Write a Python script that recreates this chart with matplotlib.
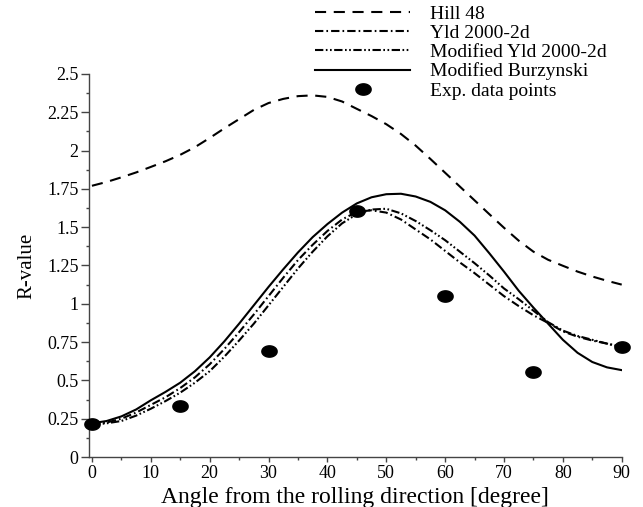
import numpy as np
import matplotlib
matplotlib.use("Agg")
import matplotlib.pyplot as plt
from matplotlib.path import Path
from matplotlib.ticker import MultipleLocator, FormatStrFormatter

# =========================
# DATA
# =========================
angles = [0, 2.5, 5, 7.5, 10, 12.5, 15, 17.5, 20, 22.5, 25, 27.5, 30, 32.5,
          35, 37.5, 40, 42.5, 45, 47.5, 50, 52.5, 55, 57.5, 60, 62.5, 65,
          67.5, 70, 72.5, 75, 77.5, 80, 82.5, 85, 87.5, 90]

r_hill48 = [1.77, 1.795, 1.825, 1.857, 1.893, 1.93, 1.972, 2.022, 2.082, 2.145,
            2.205, 2.265, 2.31, 2.337, 2.355, 2.36, 2.35, 2.32, 2.272, 2.225,
            2.172, 2.108, 2.032, 1.945, 1.855, 1.765, 1.675, 1.585, 1.496,
            1.412, 1.34, 1.287, 1.248, 1.21, 1.178, 1.15, 1.125]
r_yld2000 = [0.215, 0.225, 0.25, 0.29, 0.34, 0.39, 0.45, 0.52, 0.605, 0.705,
             0.815, 0.93, 1.05, 1.17, 1.285, 1.385, 1.475, 1.55, 1.60, 1.61,
             1.595, 1.55, 1.485, 1.42, 1.345, 1.27, 1.20, 1.125, 1.05,
             0.985, 0.925, 0.875, 0.82, 0.785, 0.76, 0.74, 0.715]
r_mod_yld2000 = [0.21, 0.22, 0.235, 0.27, 0.315, 0.365, 0.42, 0.485, 0.56,
                 0.655, 0.76, 0.87, 0.99, 1.11, 1.23, 1.34, 1.44, 1.525,
                 1.585, 1.615, 1.62, 1.59, 1.54, 1.48, 1.415, 1.34, 1.265,
                 1.185, 1.10, 1.03, 0.955, 0.88, 0.825, 0.79, 0.765, 0.74, 0.72]
r_mod_burz = [0.22, 0.235, 0.265, 0.31, 0.37, 0.425, 0.485, 0.56, 0.65, 0.755,
              0.87, 0.99, 1.11, 1.225, 1.335, 1.435, 1.52, 1.595, 1.655, 1.695,
              1.715, 1.718, 1.70, 1.665, 1.61, 1.535, 1.445, 1.33, 1.21,
              1.085, 0.975, 0.87, 0.765, 0.68, 0.62, 0.585, 0.567]

exp_angles = [0, 15, 30, 45, 60, 75, 90]
exp_r = [0.215, 0.33, 0.695, 1.605, 1.05, 0.555, 0.715]

labels = ["Hill 48", "Yld 2000-2d", "Modified Yld 2000-2d",
          "Modified Burzynski", "Exp. data points"]

# =========================
# STYLE
# =========================
plt.rcParams["font.family"] = ["Liberation Serif", "DejaVu Serif"]
plt.rcParams["lines.scale_dashes"] = False
axis_gray = "#444444"

# slightly wide ellipse marker like the original
t = np.linspace(0, 2 * np.pi, 60)
ellipse = Path(np.column_stack([1.35 * np.cos(t), np.sin(t)]))

fig = plt.figure(figsize=(6.43, 5.07), dpi=100)
ax = fig.add_axes([0.1384, 0.0986, 0.8285, 0.7556])

lw = 1.5
h1, = ax.plot(angles, r_hill48, color="k", lw=lw, dashes=(8, 5.5))
h2, = ax.plot(angles, r_yld2000, color="k", lw=lw, dashes=(6, 2.2, 1.2, 2.2))
h3, = ax.plot(angles, r_mod_yld2000, color="k", lw=lw,
              dashes=(6, 1.8, 1.2, 1.8, 1.2, 1.8))
h4, = ax.plot(angles, r_mod_burz, color="k", lw=lw)
h5, = ax.plot(exp_angles, exp_r, ls="none", marker=ellipse, ms=11,
              color="k", zorder=5, clip_on=False)

ax.set_xlim(-0.5, 90)
ax.set_ylim(0, 2.5)
ax.xaxis.set_major_locator(MultipleLocator(10))
ax.xaxis.set_minor_locator(MultipleLocator(5))
ax.yaxis.set_major_locator(MultipleLocator(0.25))
ax.yaxis.set_minor_locator(MultipleLocator(0.125))
ax.yaxis.set_major_formatter(FormatStrFormatter("%g"))

for side in ["top", "right"]:
    ax.spines[side].set_visible(False)
for side in ["left", "bottom"]:
    ax.spines[side].set_color(axis_gray)
    ax.spines[side].set_linewidth(1.0)

ax.tick_params(axis="x", which="major", direction="out", length=3.5, width=1,
               color=axis_gray, labelsize=13, pad=2)
ax.tick_params(axis="x", which="minor", direction="out", length=2.5, width=1,
               color=axis_gray)
ax.tick_params(axis="y", which="major", direction="out", length=5.5, width=1,
               color=axis_gray, labelsize=13, pad=2)
ax.tick_params(axis="y", which="minor", direction="out", length=2.5, width=1,
               color=axis_gray)

ax.set_xlabel("Angle from the rolling direction [degree]", fontsize=17, labelpad=4)
ax.set_ylabel("R-value", fontsize=15, labelpad=8)

fig.legend([h1, h2, h3, h4, h5], labels, loc="upper left",
           bbox_to_anchor=(315 / 643, 1 - 5 / 507), frameon=False,
           fontsize=14, handlelength=4.9, handletextpad=1.0,
           labelspacing=0.08, borderpad=0, borderaxespad=0, numpoints=1)

fig.savefig("out.png", dpi=100)
